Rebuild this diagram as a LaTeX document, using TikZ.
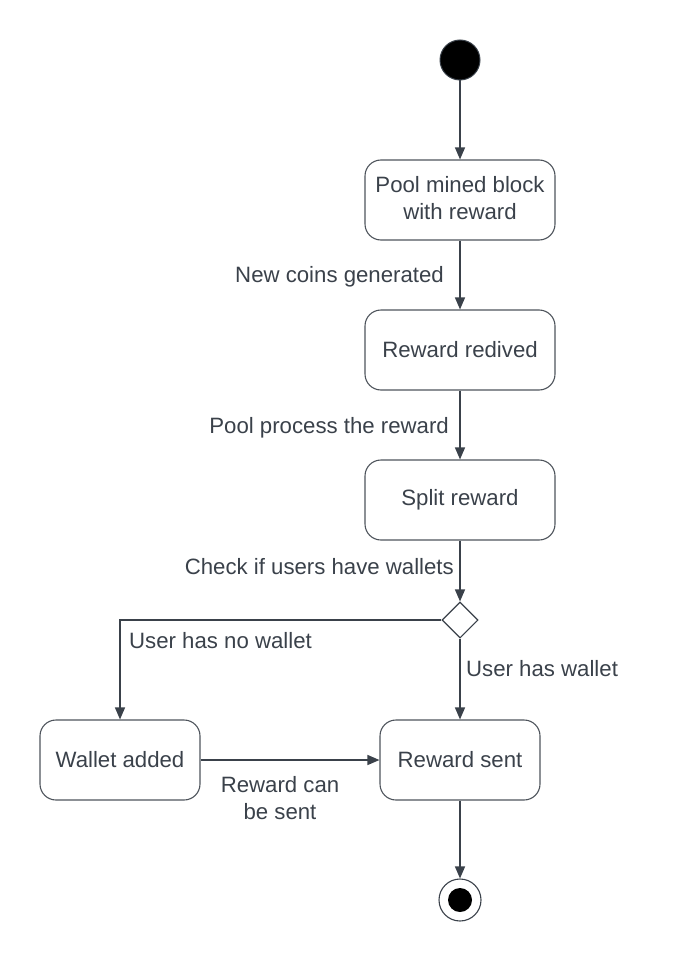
\documentclass[tikz,border=0pt]{standalone}
\usepackage{fontspec}
\setmainfont{Liberation Sans}
\usetikzlibrary{arrows.meta,shapes.geometric}
\definecolor{ink}{HTML}{3A414A}
\begin{document}
\begin{tikzpicture}[x=1pt, y=-1pt, >={Triangle[length=12pt,width=10pt]},
  state/.style={draw=ink!90, line width=1.1pt, rounded corners=16pt, minimum height=80pt,
    align=center, text=ink, font=\fontsize{22.2}{27}\selectfont},
  lbl/.style={text=ink, font=\fontsize{22.2}{27}\selectfont, inner sep=0pt},
  flow/.style={->, draw=ink, line width=1.3pt}]
\useasboundingbox (0,0) rectangle (700,960);
% initial and final
\node[circle, fill=black, draw=ink, line width=1pt, minimum size=40pt, inner sep=0pt] (start) at (460,60) {};
\node[circle, draw=ink, line width=1.1pt, minimum size=42pt, inner sep=0pt] (final) at (460,900) {};
\fill[black] (final.center) circle (12pt);
% states
\node[state, minimum width=190pt] (mined) at (460,200) {Pool mined block\\with reward\vphantom{g}};
\node[state, minimum width=190pt] (received) at (460,350) {Reward redived};
\node[state, minimum width=190pt] (split) at (460,500) {Split reward};
\node[diamond, draw=ink, line width=1.1pt, minimum width=36pt, minimum height=36pt, inner sep=0pt] (check) at (460,620) {};
\node[state, minimum width=160pt] (added) at (120,760) {Wallet added};
\node[state, minimum width=160pt] (sent) at (460,760) {Reward sent};
% transitions
\draw[flow] (start) -- (mined);
\draw[flow] (mined) -- (received);
\draw[flow] (received) -- (split);
\draw[flow] (split) -- (check);
\draw[flow] (check) -| (added);
\draw[flow] (check) -- (sent);
\draw[flow] (added) -- (sent);
\draw[flow] (sent) -- (final);
% guards
\node[lbl, anchor=east] at (444,277) {New coins generated};
\node[lbl, anchor=east] at (449,428) {Pool process the reward};
\node[lbl, anchor=east] at (454,567) {Check if users have wallets};
\node[lbl, anchor=west] at (129,641) {User has no wallet};
\node[lbl, anchor=west] at (466,669) {User has wallet};
\node[lbl, align=center] at (280,798) {Reward can\\be sent};
\end{tikzpicture}
\end{document}
